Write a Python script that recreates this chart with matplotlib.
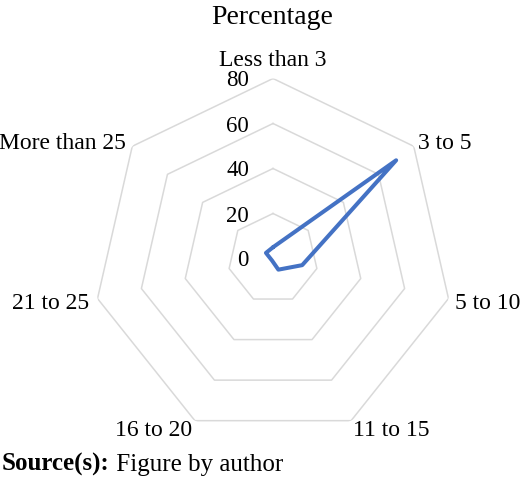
import numpy as np
import matplotlib
matplotlib.use("Agg")
import matplotlib.pyplot as plt

# -----------------------------------------------------------------------------
# Data
# -----------------------------------------------------------------------------
categories = ["Less than 3", "3 to 5", "5 to 10", "11 to 15",
              "16 to 20", "21 to 25", "More than 25"]
percentage = [5, 70, 13.3, 5.5, 1, 1, 4]
ring_values = [20, 40, 60, 80]
tick_values = [0, 20, 40, 60, 80]

# label placement (pixel offset from outer vertex, alignment)
label_offsets = [(0, 13), (4, -3), (7, -10), (2, -15), (-3, -15), (-8, -10), (-6, -3)]
label_ha = ["center", "left", "left", "left", "right", "right", "right"]

plt.rcParams["font.family"] = ["Liberation Serif", "DejaVu Serif"]

# -----------------------------------------------------------------------------
# Figure and polar axes
# -----------------------------------------------------------------------------
fig = plt.figure(figsize=(5.2, 4.8), dpi=100)
ax = fig.add_axes([93 / 520, 41.5 / 480, 360 / 520, 360 / 480], projection="polar")
ax.set_theta_zero_location("N")
ax.set_theta_direction(-1)
ax.set_ylim(0, 80)
ax.set_axis_off()

n = len(categories)
theta = np.linspace(0, 2 * np.pi, n, endpoint=False)
theta_closed = np.append(theta, theta[0])

# heptagon grid rings
for r in ring_values:
    ax.plot(theta_closed, [r] * (n + 1), color="#d9d9d9", lw=1.1, zorder=1)

# data series
vals = np.append(percentage, percentage[0])
ax.plot(theta_closed, vals, color="#4472c4", lw=2.9, solid_joinstyle="round",
        solid_capstyle="round", zorder=3)

# radial tick labels on the vertical axis
for v in tick_values:
    ax.annotate(str(v), xy=(0, v), xytext=(-24, 0), textcoords="offset pixels",
                ha="right", va="center_baseline", fontsize=16.5, annotation_clip=False)

# category labels
for t, lab, off, ha in zip(theta, categories, label_offsets, label_ha):
    ax.annotate(lab, xy=(t, 80), xytext=off, textcoords="offset pixels",
                ha=ha, va="baseline", fontsize=17, annotation_clip=False)

# -----------------------------------------------------------------------------
# Title and source line
# -----------------------------------------------------------------------------
fig.text(272.5 / 520, 1 - 24 / 480, "Percentage", ha="center", va="baseline", fontsize=20)
src = fig.text(2 / 520, 1 - 471 / 480, "Source(s):", ha="left", va="baseline",
               fontsize=18, fontweight="bold")
fig.canvas.draw()
bb = src.get_window_extent()
fig.text(bb.x1 / fig.bbox.width, 1 - 471 / 480, " Figure by author",
         ha="left", va="baseline", fontsize=18)

fig.savefig("out.png", dpi=100)
